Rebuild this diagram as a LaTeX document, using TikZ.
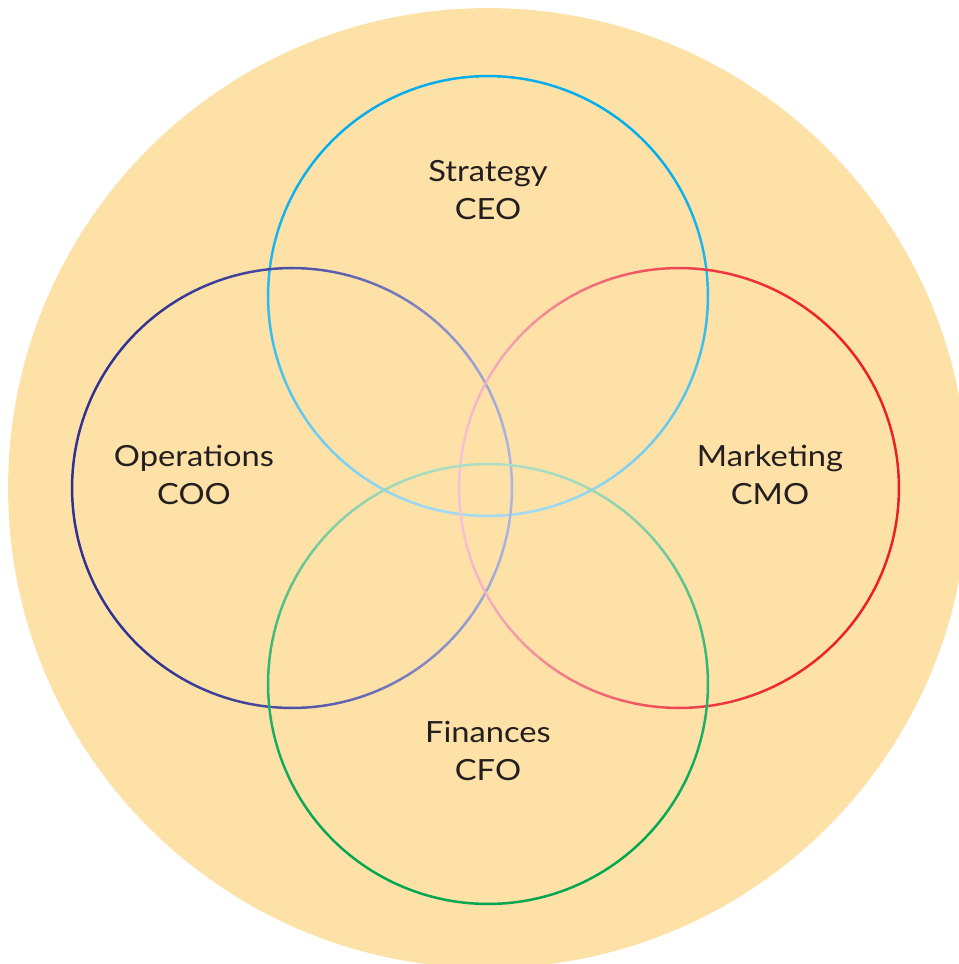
\documentclass[tikz,border=0pt]{standalone}
\usepackage{fontspec}
\setmainfont[FakeStretch=1.12]{Lato}
\usetikzlibrary{positioning}

\definecolor{disc}{RGB}{253,225,166}
\definecolor{txt}{RGB}{35,31,32}
\definecolor{ceoDark}{RGB}{0,174,239}
\definecolor{ceoLight}{RGB}{160,218,246}
\definecolor{cooDark}{RGB}{46,49,146}
\definecolor{cooLight}{RGB}{172,180,226}
\definecolor{cmoDark}{RGB}{237,28,36}
\definecolor{cmoLight}{RGB}{246,194,214}
\definecolor{cfoDark}{RGB}{0,166,81}
\definecolor{cfoLight}{RGB}{172,222,196}

\begin{document}
\begin{tikzpicture}[x=0.02cm, y=0.02cm,
    role/.style={align=center, text=txt, font=\fontsize{16.6}{21.6}\selectfont},
    ring/.style={line width=1.4pt, line cap=round}]

    % Page and background disc
    \fill[white] (0,0) rectangle (958,-964);
    \useasboundingbox (0,0) rectangle (958,-964);
    \fill[disc] (488,-488) circle[radius=9.6cm];

    % Centres of the four rings
    \coordinate (ceo) at (488,-296);
    \coordinate (coo) at (292,-488);
    \coordinate (cmo) at (679,-488);
    \coordinate (cfo) at (488,-684);

    % Rings, fading towards the middle
    \foreach \c/\ang/\dark/\light in {ceo/90/ceoDark/ceoLight, coo/180/cooDark/cooLight,
                                      cmo/0/cmoDark/cmoLight, cfo/270/cfoDark/cfoLight} {
        \foreach \a in {0,3,...,357} {
            \pgfmathtruncatemacro\p{100-100*((1-cos(\a+1.5-\ang))/2)^2}
            \draw[ring, draw=\dark!\p!\light] (\c) ++(\a:4.4cm)
                arc[start angle=\a, end angle=\a+3, radius=4.4cm];
        }
    }

    % Labels
    \node[role] (strategy) at (488,-190) {Strategy\\CEO};
    \node[role] (operations) at (194,-475) {Operations\\COO};
    \node[role] (marketing) at (770,-475) {Marketing\\CMO};
    \node[role] (finances) at (488,-751) {Finances\\CFO};
\end{tikzpicture}
\end{document}
